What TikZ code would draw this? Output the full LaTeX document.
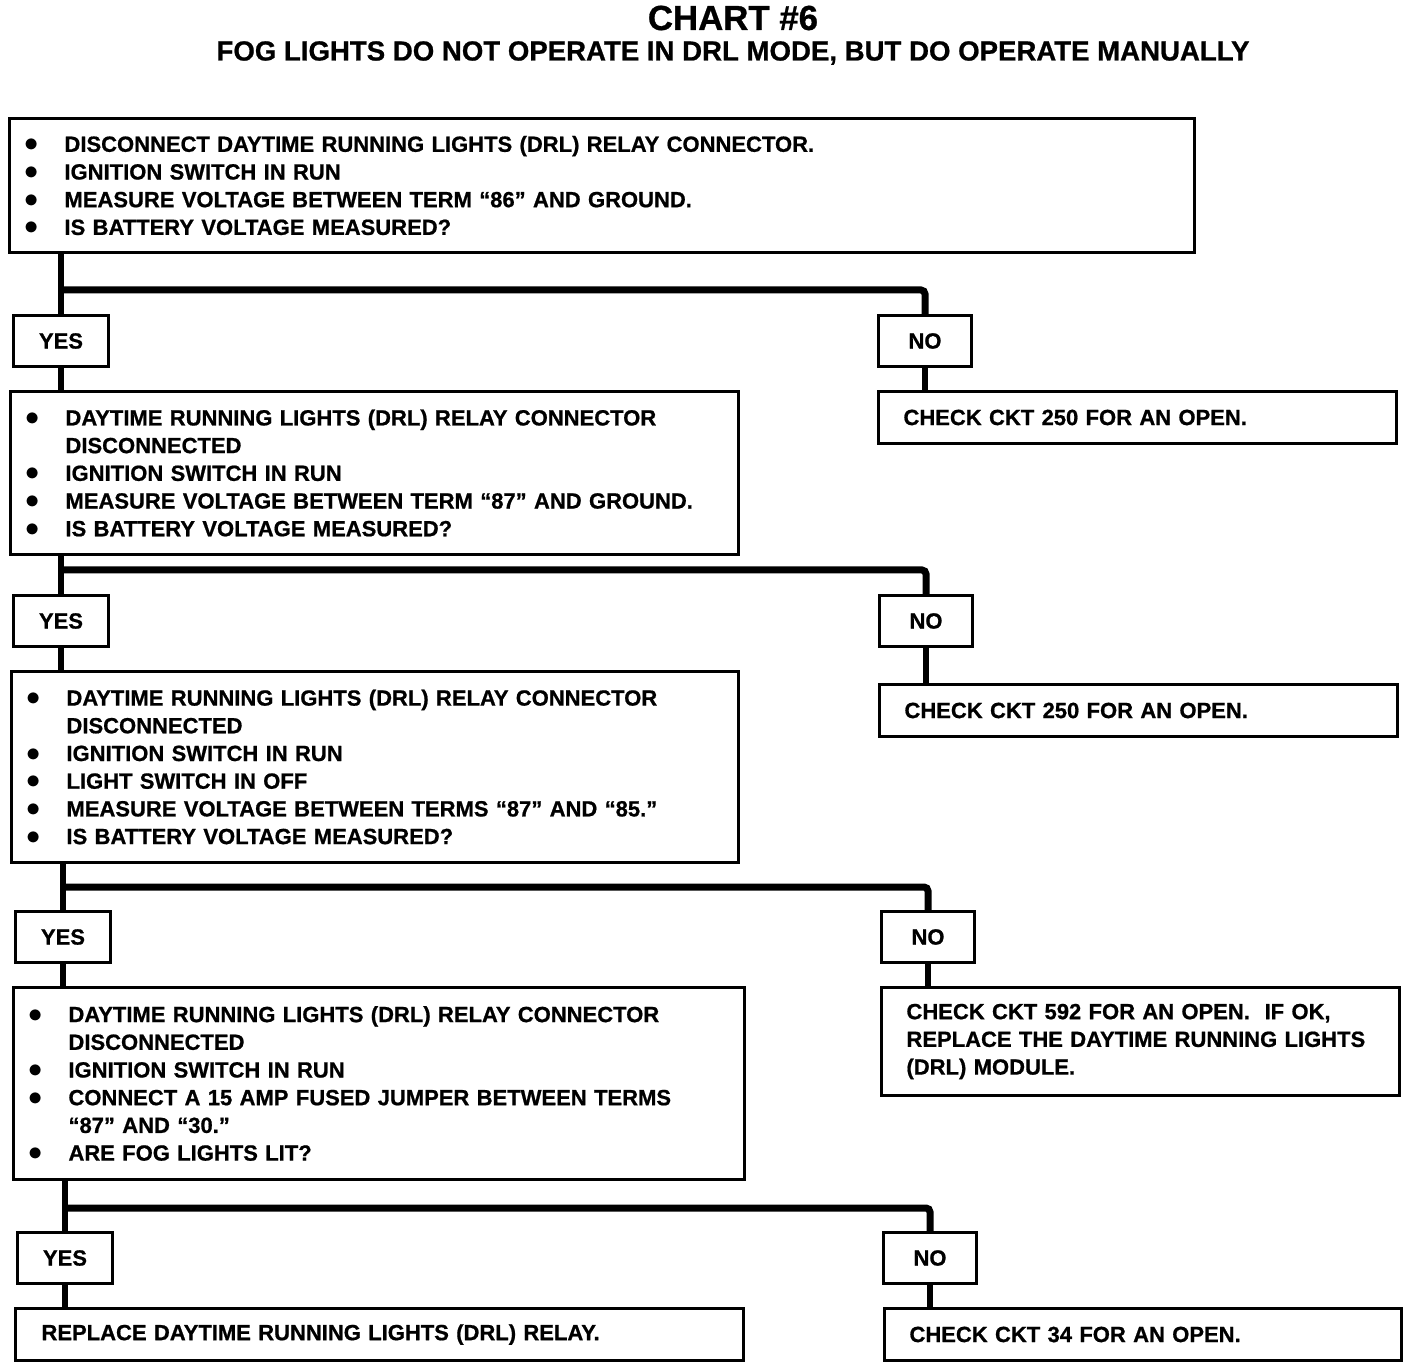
\documentclass[tikz,border=0pt]{standalone}
\usepackage{fontspec}
\setmainfont{Liberation Sans}[BoldFeatures={FakeBold=0.8}]
\newcommand\bitem{\makebox[20pt][l]{\scalebox{1.3}{$\bullet$}}}
\newcommand\bind{\hspace*{20pt}}
\begin{document}
\begin{tikzpicture}[x=0.5pt,y=-0.5pt,
 every node/.style={font=\fontsize{11}{13.85}\selectfont\bfseries},
 box/.style={draw,line width=1.5pt,anchor=north west,inner ysep=0pt,inner xsep=7.5pt,align=left},
 res/.style={draw,line width=1.5pt,anchor=north west,inner ysep=0pt,inner xsep=12.5pt,align=left,text width=234pt,minimum height=26pt},
 lbl/.style={draw,line width=1.5pt,anchor=north west,inner sep=0pt,minimum height=25.5pt},
 conn/.style={line width=3pt},
 hconn/.style={line width=3.5pt,rounded corners=2pt}]
\useasboundingbox (0,0) rectangle (1408,1368);

\node[font=\fontsize{17.4}{20}\selectfont\bfseries] (title) at (733,18) {CHART \#6};
\node[font=\fontsize{13.8}{16}\selectfont\bfseries] (sub) at (733,53) {FOG LIGHTS DO NOT OPERATE IN DRL MODE, BUT DO OPERATE MANUALLY};

% row 1
\node[box,text width=577.5pt,minimum height=67pt] (b1) at (8,117) {%
\bitem DISCONNECT DAYTIME RUNNING LIGHTS (DRL) RELAY CONNECTOR.\\
\bitem IGNITION SWITCH IN RUN\\
\bitem MEASURE VOLTAGE BETWEEN TERM “86” AND GROUND.\\
\bitem IS BATTERY VOLTAGE MEASURED?};
\node[lbl,minimum width=47.5pt] (yes1) at (12,314) {YES};
\node[lbl,minimum width=46.5pt] (no1) at (877,314) {NO};
\node[res] (r1) at (877,390) {CHECK CKT 250 FOR AN OPEN.};

% row 2
\node[box,text width=349pt,minimum height=81.5pt] (b2) at (9,390) {%
\bitem DAYTIME RUNNING LIGHTS (DRL) RELAY CONNECTOR\\
\bind DISCONNECTED\\
\bitem IGNITION SWITCH IN RUN\\
\bitem MEASURE VOLTAGE BETWEEN TERM “87” AND GROUND.\\
\bitem IS BATTERY VOLTAGE MEASURED?};
\node[lbl,minimum width=47.5pt] (yes2) at (12,594) {YES};
\node[lbl,minimum width=46.5pt] (no2) at (878,594) {NO};
\node[res] (r2) at (878,683) {CHECK CKT 250 FOR AN OPEN.};

% row 3
\node[box,text width=348.5pt,minimum height=95.5pt] (b3) at (10,670) {%
\bitem DAYTIME RUNNING LIGHTS (DRL) RELAY CONNECTOR\\
\bind DISCONNECTED\\
\bitem IGNITION SWITCH IN RUN\\
\bitem LIGHT SWITCH IN OFF\\
\bitem MEASURE VOLTAGE BETWEEN TERMS “87” AND “85.”\\
\bitem IS BATTERY VOLTAGE MEASURED?};
\node[lbl,minimum width=47.5pt] (yes3) at (14,910) {YES};
\node[lbl,minimum width=46.5pt] (no3) at (880,910) {NO};
\node[res,minimum height=54pt] (r3) at (880,986) {CHECK CKT 592 FOR AN OPEN.\ \ IF OK,\\
REPLACE THE DAYTIME RUNNING LIGHTS\\
(DRL) MODULE.};

% row 4
\node[box,text width=350.5pt,minimum height=96pt] (b4) at (12,986) {%
\bitem DAYTIME RUNNING LIGHTS (DRL) RELAY CONNECTOR\\
\bind DISCONNECTED\\
\bitem IGNITION SWITCH IN RUN\\
\bitem CONNECT A 15 AMP FUSED JUMPER BETWEEN TERMS\\
\bind “87” AND “30.”\\
\bitem ARE FOG LIGHTS LIT?};
\node[lbl,minimum width=47.5pt] (yes4) at (16,1231) {YES};
\node[lbl,minimum width=46.5pt] (no4) at (882,1231) {NO};
\node[box,inner xsep=13pt,text width=338pt,minimum height=26pt] (b5) at (14,1307) {REPLACE DAYTIME RUNNING LIGHTS (DRL) RELAY.};
\node[res,text width=233.5pt] (r4) at (883,1307) {CHECK CKT 34 FOR AN OPEN.};

% connectors
\coordinate (j1) at (yes1.north |- 0,290);
\coordinate (j2) at (yes2.north |- 0,570);
\coordinate (j3) at (yes3.north |- 0,887);
\coordinate (j4) at (yes4.north |- 0,1208);

\draw[conn] (yes1.north |- b1.south) -- (yes1.north);
\draw[hconn] (j1) -| (no1.north);
\draw[conn] (no1.south) -- (no1.south |- r1.north);
\draw[conn] (yes1.south) -- (yes1.south |- b2.north);

\draw[conn] (yes2.north |- b2.south) -- (yes2.north);
\draw[hconn] (j2) -| (no2.north);
\draw[conn] (no2.south) -- (no2.south |- r2.north);
\draw[conn] (yes2.south) -- (yes2.south |- b3.north);

\draw[conn] (yes3.north |- b3.south) -- (yes3.north);
\draw[hconn] (j3) -| (no3.north);
\draw[conn] (no3.south) -- (no3.south |- r3.north);
\draw[conn] (yes3.south) -- (yes3.south |- b4.north);

\draw[conn] (yes4.north |- b4.south) -- (yes4.north);
\draw[hconn] (j4) -| (no4.north);
\draw[conn] (no4.south) -- (no4.south |- r4.north);
\draw[conn] (yes4.south) -- (yes4.south |- b5.north);
\end{tikzpicture}
\end{document}
